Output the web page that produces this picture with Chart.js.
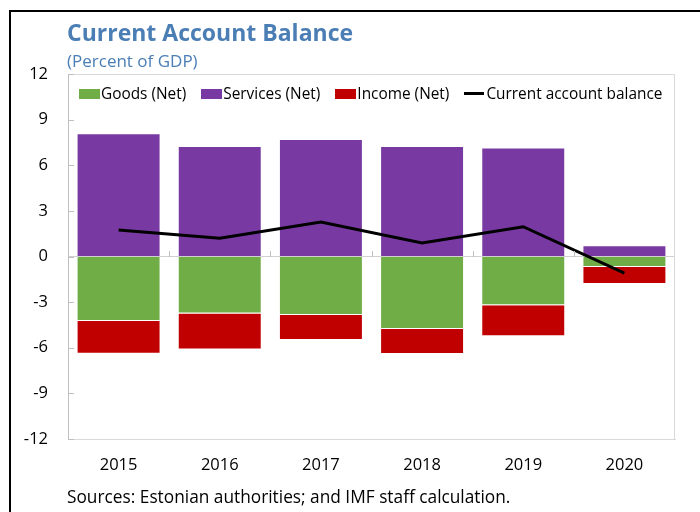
<!DOCTYPE html>
<html>
<head>
<meta charset="utf-8">
<script src="https://cdn.jsdelivr.net/npm/chart.js@4"></script>
<style>
  html, body { margin: 0; padding: 0; background: #fff; overflow: hidden; }
  body { width: 700px; height: 512px; position: relative; font-family: "Open Sans", sans-serif; }
  #frame { position: absolute; left: 9px; top: 10px; width: 800px; height: 600px; border: 2px solid #000; box-sizing: border-box; }
  #chart { position: absolute; left: 0; top: 0; }
  .txt { position: absolute; white-space: nowrap; }
  #title { left: 67px; top: 16px; font-size: 23px; font-weight: bold; color: #4A7EB5; }
  #subtitle { left: 67px; top: 49px; font-size: 17px; color: #4A7EB5; }
  #source { left: 67px; top: 485px; font-size: 17.3px; color: #000; }
  #legend { position: absolute; left: 79px; top: 83px; display: flex; align-items: center; font-size: 15.4px; color: #000; }
  #legend .item { display: flex; align-items: center; margin-right: 15px; }
  #legend .box { width: 21px; height: 10px; margin-right: 1px; }
  #legend .line { width: 20px; height: 3px; background: #000; margin-right: 2px; }
</style>
</head>
<body>
<div id="frame"></div>
<canvas id="chart" width="700" height="512"></canvas>
<div class="txt" id="title">Current Account Balance</div>
<div class="txt" id="subtitle">(Percent of GDP)</div>
<div id="legend"></div>
<div class="txt" id="source">Sources: Estonian authorities; and IMF staff calculation.</div>
<script>
const years = ["2015", "2016", "2017", "2018", "2019", "2020"];
const goods = [-4.24, -3.74, -3.85, -4.77, -3.21, -0.69];
const services = [8.1, 7.27, 7.73, 7.27, 7.16, 0.74];
const income = [-2.15, -2.37, -1.64, -1.64, -2.04, -1.12];
const currentAccount = [1.74, 1.2, 2.27, 0.89, 1.96, -1.09];
const yTicks = [-12, -9, -6, -3, 0, 3, 6, 9, 12];

const colors = { goods: "#70AD47", services: "#783AA2", income: "#C00000", line: "#000000" };

// legend is plain html, laid over the plot area
const legendItems = [
  { label: "Goods (Net)", color: colors.goods },
  { label: "Services (Net)", color: colors.services },
  { label: "Income (Net)", color: colors.income },
  { label: "Current account balance", line: true },
];
const legendEl = document.getElementById("legend");
legendItems.forEach(it => {
  const d = document.createElement("div");
  d.className = "item";
  const mark = document.createElement("span");
  mark.className = it.line ? "line" : "box";
  if (!it.line) mark.style.background = it.color;
  d.appendChild(mark);
  d.appendChild(document.createTextNode(it.label));
  legendEl.appendChild(d);
});

const axisGray = "#BFBFBF";

// plot frame, short inner ticks on the y axis and category ticks on the zero line
const framePlugin = {
  id: "framePlugin",
  afterDraw(chart) {
    const { ctx, chartArea: a, scales } = chart;
    const x = scales.x, y = scales.y;
    ctx.save();
    ctx.lineWidth = 1;
    ctx.strokeStyle = "#D9D9D9";
    ctx.beginPath();
    ctx.moveTo(a.left, a.top + 0.5);
    ctx.lineTo(a.right - 0.5, a.top + 0.5);
    ctx.lineTo(a.right - 0.5, a.bottom);
    ctx.stroke();

    ctx.strokeStyle = axisGray;
    ctx.beginPath();
    yTicks.forEach(v => {
      const py = Math.round(y.getPixelForValue(v)) + 0.5;
      ctx.moveTo(a.left, py);
      ctx.lineTo(a.left + 6, py);
    });
    const zero = Math.round(y.getPixelForValue(0));
    for (let i = 1; i < years.length; i++) {
      const px = Math.round((x.getPixelForValue(i - 1) + x.getPixelForValue(i)) / 2) + 0.5;
      ctx.moveTo(px, zero);
      ctx.lineTo(px, zero - 6);
    }
    ctx.stroke();
    ctx.restore();
  }
};

new Chart(document.getElementById("chart"), {
  type: "bar",
  data: {
    labels: years,
    datasets: [
      {
        type: "line",
        label: "Current account balance",
        data: currentAccount,
        borderColor: colors.line,
        borderWidth: 3,
        pointRadius: 0,
        tension: 0,
        stack: "line",
        order: 0,
      },
      { label: "Goods (Net)", data: goods, backgroundColor: colors.goods, borderColor: "rgba(255,255,255,0.35)", borderWidth: 1, stack: "bars", order: 1 },
      { label: "Services (Net)", data: services, backgroundColor: colors.services, borderColor: "rgba(255,255,255,0.35)", borderWidth: 1, stack: "bars", order: 1 },
      { label: "Income (Net)", data: income, backgroundColor: colors.income, borderColor: "rgba(255,255,255,0.35)", borderWidth: 1, stack: "bars", order: 1 },
    ],
  },
  options: {
    responsive: false,
    animation: false,
    layout: { padding: { left: 0, top: 74, right: 25, bottom: 33 } },
    plugins: { legend: { display: false }, tooltip: { enabled: false } },
    datasets: { bar: { categoryPercentage: 1, barPercentage: 0.83 } },
    scales: {
      x: {
        stacked: true,
        grid: { display: false, drawTicks: false },
        border: { display: true, color: "#D9D9D9" },
        ticks: { color: "#000", font: { family: "Open Sans", size: 16.5 }, padding: 16 },
        afterFit: s => { s.height = 40; },
      },
      y: {
        stacked: true,
        min: -12,
        max: 12,
        afterBuildTicks: s => { s.ticks = yTicks.map(v => ({ value: v })); },
        grid: {
          drawTicks: false,
          color: c => (c.tick && c.tick.value === 0 ? "#D0D0D0" : "transparent"),
        },
        border: { display: true, color: axisGray },
        ticks: { color: "#000", font: { family: "Open Sans", size: 16.5 }, padding: 20 },
        afterFit: s => { s.width = 68; },
      },
    },
  },
  plugins: [framePlugin],
});
</script>
</body>
</html>
